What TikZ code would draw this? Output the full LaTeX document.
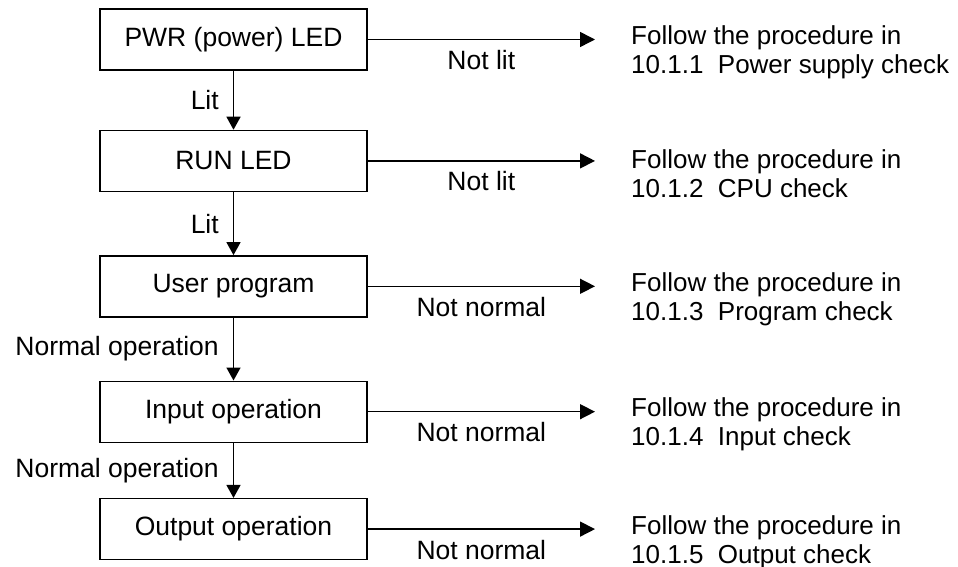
\documentclass[tikz,border=0pt]{standalone}
\usepackage{fontspec}
\setmainfont{Liberation Sans}
\usepackage{tikz}
\usetikzlibrary{arrows.meta,positioning}
\tikzset{
  checkbox/.style={draw=black,line width=1.4pt,minimum width=267pt,minimum height=61pt,
                   inner sep=0pt,align=center,font=\fontsize{26.5}{30}\selectfont},
  down/.style={-{Triangle[length=13pt,width=14pt]},line width=1.5pt},
  across/.style={-{Triangle[length=15pt,width=15pt]},line width=1.5pt},
  result/.style={anchor=west,inner sep=0pt,align=left,yshift=-13pt,
                 font=\fontsize{26}{29}\selectfont},
  labeltext/.style={inner sep=0pt,font=\fontsize{26.5}{30}\selectfont},
}
\begin{document}
\begin{tikzpicture}
  \useasboundingbox (0,0) rectangle (958pt,-567pt);
  % check steps
  \node[checkbox] (pwr) at (233.5pt,-39.5pt) {PWR (power) LED};
  \node[checkbox,below=59pt of pwr] (run) {RUN LED};
  \node[checkbox,below=63pt of run] (prog) {User program};
  \node[checkbox,below=63pt of prog] (inp) {Input operation};
  \node[checkbox,below=55pt of inp] (outp) {Output operation};
  % what to do next
  \node[result] (r1) at (pwr.center -| 631pt,0) {Follow the procedure in\\10.1.1\ \ Power supply check};
  \node[result] (r2) at (run.center -| 631pt,0) {Follow the procedure in\\10.1.2\ \ CPU check};
  \node[result] (r3) at (prog.center -| 631pt,0) {Follow the procedure in\\10.1.3\ \ Program check};
  \node[result] (r4) at (inp.center -| 631pt,0) {Follow the procedure in\\10.1.4\ \ Input check};
  \node[result] (r5) at (outp.center -| 631pt,0) {Follow the procedure in\\10.1.5\ \ Output check};
  % normal path
  \draw[down] (pwr) -- node[labeltext,left=14pt] (l1) {Lit} (run);
  \draw[down] (run) -- node[labeltext,left=14pt] (l2) {Lit} (prog);
  \draw[down] (prog) -- node[labeltext,left=14pt] (l3) {Normal operation} (inp);
  \draw[down] (inp) -- node[labeltext,left=14pt] (l4) {Normal operation} (outp);
  % faults
  \draw[across] (pwr.east) -- ([xshift=-36pt]pwr.east -| r1.west)
      node[labeltext,midway,below=10pt] (n1) {Not lit};
  \draw[across] (run.east) -- ([xshift=-36pt]run.east -| r2.west)
      node[labeltext,midway,below=10pt] (n2) {Not lit};
  \draw[across] (prog.east) -- ([xshift=-36pt]prog.east -| r3.west)
      node[labeltext,midway,below=10pt] (n3) {Not normal};
  \draw[across] (inp.east) -- ([xshift=-36pt]inp.east -| r4.west)
      node[labeltext,midway,below=10pt] (n4) {Not normal};
  \draw[across] (outp.east) -- ([xshift=-36pt]outp.east -| r5.west)
      node[labeltext,midway,below=10pt] (n5) {Not normal};
\end{tikzpicture}
\end{document}
